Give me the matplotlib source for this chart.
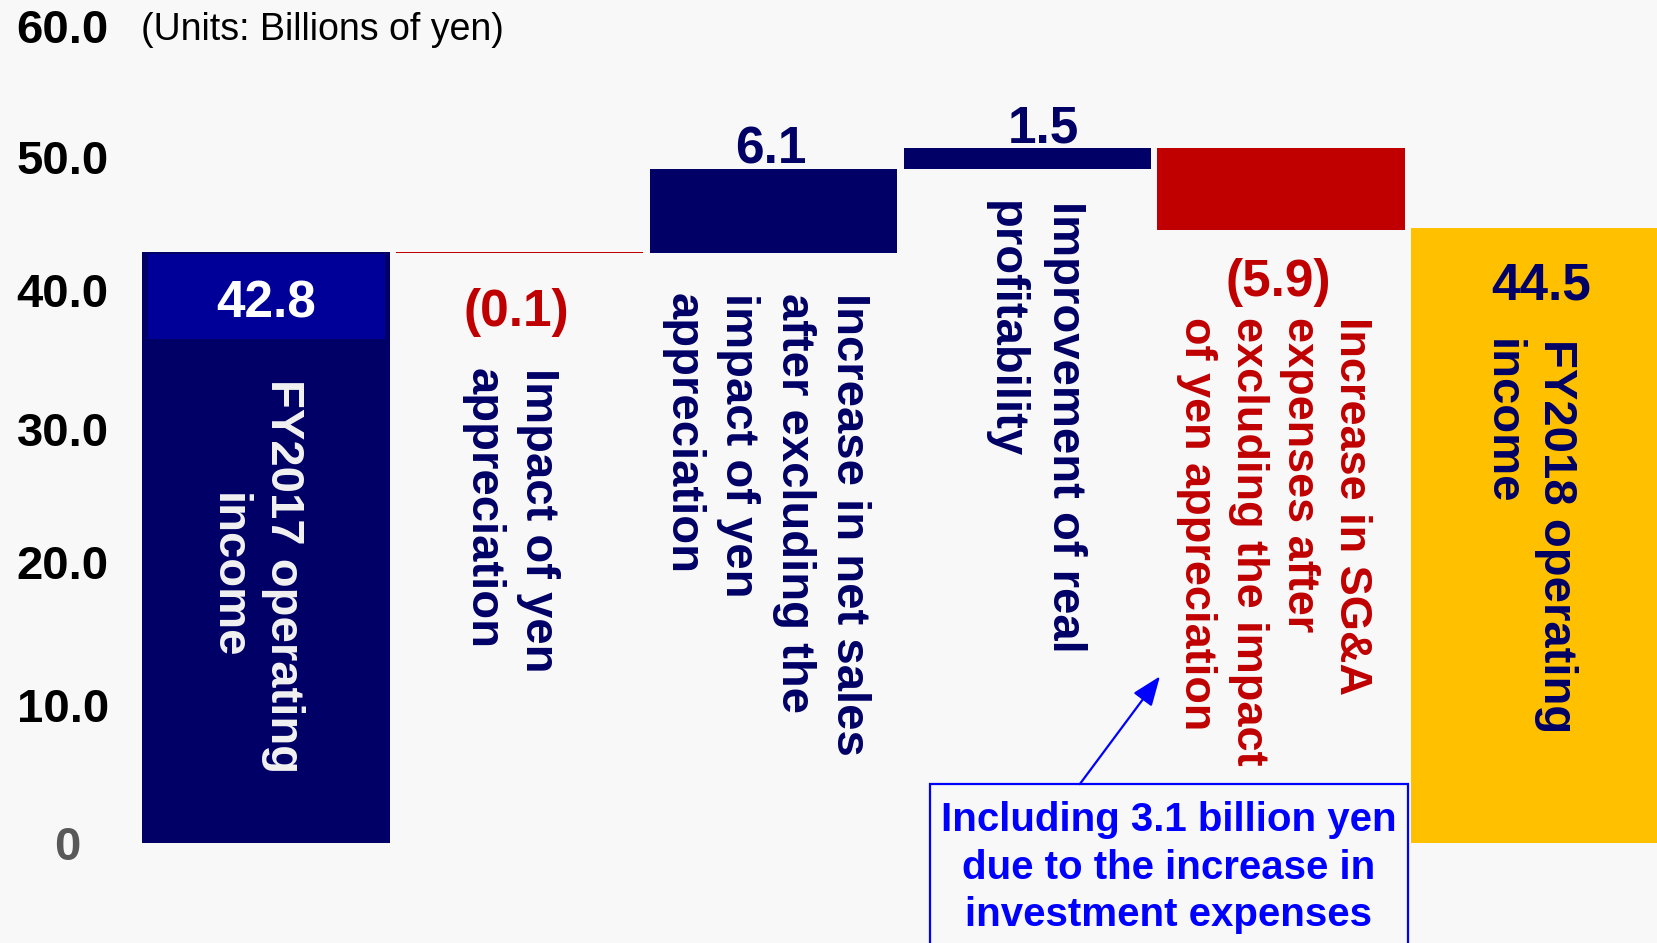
import matplotlib
matplotlib.use("Agg")
import matplotlib.pyplot as plt
import numpy as np
from matplotlib.patches import Rectangle
from matplotlib.transforms import ScaledTranslation

plt.rcParams['font.family'] = ['Liberation Sans', 'DejaVu Sans']

# ---------------- data ----------------
categories = [
    "FY2017 operating\nincome",
    "Impact of yen\nappreciation",
    "Increase in net sales\nafter excluding the\nimpact of yen\nappreciation",
    "Improvement of real\nprofitability",
    "Increase in SG&A\nexpenses after\nexcluding the impact\nof yen appreciation",
    "FY2018 operating\nincome",
]
start_total = 42.8
changes = [-0.1, 6.1, 1.5, -5.9]
final_total = 44.5
value_labels = ["42.8", "(0.1)", "6.1", "1.5", "(5.9)", "44.5"]
yticks = [0, 10, 20, 30, 40, 50, 60]
ytick_labels = ["0", "10.0", "20.0", "30.0", "40.0", "50.0", "60.0"]
units_text = "(Units: Billions of yen)"
note_text = "Including 3.1 billion yen\ndue to the increase in\ninvestment expenses"

# ---------------- style ----------------
BG = "#F8F8F8"
NAVY = "#000066"
BAND = "#000099"
RED = "#C00000"
GOLD = "#FFC000"
BLUE = "#0000FF"
bar_colors = [NAVY, RED, NAVY, NAVY, RED, GOLD]
label_colors = ["#F2F2F2", NAVY, NAVY, NAVY, RED, NAVY]
value_colors = ["white", RED, NAVY, NAVY, RED, NAVY]
label_dx = [-0.042, -0.038, -0.03, 0.03, -0.027, -0.023]
label_top = [33.6, 34.4, 39.8, 46.5, 38.1, 36.5]
label_size = [34, 34, 34, 34, 32.5, 34]
label_spacing = [1.33, 1.33, 1.33, 1.45, 1.33, 1.33]
label_malign = ["center", "left", "left", "left", "left", "left"]
value_baseline = [38.07, 37.46, 49.16, 50.69, 39.6, 39.37]
value_dx = [0.0, -0.013, -0.01, 0.065, -0.01, 0.025]
band_height = 6.3
W = 0.974

fig = plt.figure(figsize=(16.57, 9.43), dpi=100, facecolor=BG)
ax = fig.add_axes([0.0840, 0.1057, 1.0 - 0.0840, 0.9852 - 0.1057])
ax.set_facecolor(BG)

# waterfall geometry
levels = np.concatenate([[start_total], start_total + np.cumsum(changes)])
bottoms = [0.0] + list(levels[:-1]) + [0.0]
heights = [start_total] + list(changes) + [final_total]
x = np.arange(len(categories))

ax.bar(x, heights, bottom=bottoms, width=W, color=bar_colors, linewidth=0, zorder=2)
# lighter band on top of first bar (holding its value label)
ax.bar(x[0], band_height - 0.15, bottom=start_total - band_height, width=W - 0.04,
       color=BAND, linewidth=0, zorder=3)

ax.set_xlim(-0.5, 5.482)
ax.set_ylim(0, 60)
for s in ax.spines.values():
    s.set_visible(False)
ax.set_xticks([])
ax.set_yticks(yticks)
ax.tick_params(axis='y', length=0, pad=55)
tls = ax.set_yticklabels(ytick_labels, fontsize=34, fontweight='bold', ha='center')
for t, lab in zip(tls, ytick_labels):
    t.set_color("#595959" if lab == "0" else "black")
tls[-1].set_transform(tls[-1].get_transform() + ScaledTranslation(0, -0.12, fig.dpi_scale_trans))
tls[-2].set_transform(tls[-2].get_transform() + ScaledTranslation(0, -0.05, fig.dpi_scale_trans))
tls[2].set_transform(tls[2].get_transform() + ScaledTranslation(0, 0.05, fig.dpi_scale_trans))
tls[0].set_transform(tls[0].get_transform() + ScaledTranslation(0.05, 0, fig.dpi_scale_trans))

# category labels (rotated)
for i, cat in enumerate(categories):
    ax.text(x[i] + label_dx[i], label_top[i], cat, rotation=270, ha='center', va='top',
            multialignment=label_malign[i], fontsize=label_size[i], fontweight='bold',
            color=label_colors[i], zorder=5, linespacing=label_spacing[i])

# value labels
for i, v in enumerate(value_labels):
    ax.text(x[i] + value_dx[i], value_baseline[i], v, ha='center', va='baseline',
            fontsize=37, fontweight='bold', color=value_colors[i], zorder=5)

fig.text(140.6 / 1657, 1 - 29.5 / 943, units_text, ha='left', va='center', fontsize=27, color='black')

# note box and arrow
box_x0, box_x1, box_top = 2.615, 4.502, 4.28
ax.add_patch(Rectangle((box_x0, -12), box_x1 - box_x0, box_top + 12, facecolor=BG,
                       edgecolor=BLUE, linewidth=1.6, clip_on=False, zorder=4))
ax.text((box_x0 + box_x1) / 2, -1.75, note_text, ha='center', va='center', fontsize=29,
        fontweight='bold', color=BLUE, linespacing=1.31, clip_on=False, zorder=5)
ax.annotate('', xy=(3.523, 12.08), xytext=(3.207, box_top),
            arrowprops=dict(arrowstyle='-|>,head_length=0.9,head_width=0.35', color=BLUE,
                            lw=1.6, shrinkA=0, shrinkB=0, mutation_scale=20), zorder=5)

fig.savefig("out.png", dpi=100, facecolor=BG)
